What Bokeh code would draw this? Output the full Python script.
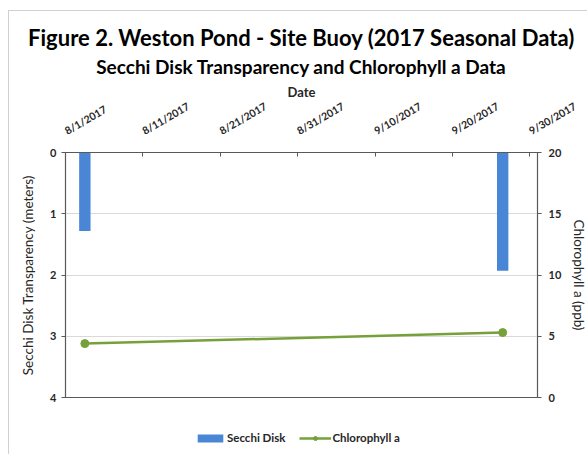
import math
import pandas as pd
from bokeh.plotting import figure
from bokeh.layouts import column
from bokeh.models import (Range1d, LinearAxis, FixedTicker, DatetimeTickFormatter,
                          Title, Legend, LegendItem, ColumnDataSource)
from bokeh.embed import file_html
from bokeh.resources import INLINE

# ---- data ----
sample_dates = ["2017-08-03 12:00", "2017-09-26 12:00"]
secchi_m = [1.28, 1.93]
chlorophyll_ppb = [4.4, 5.3]
x_tick_dates = ["2017-08-01", "2017-08-11", "2017-08-21", "2017-08-31",
                "2017-09-10", "2017-09-20", "2017-09-30"]
left_ticks = [0, 1, 2, 3, 4]
right_ticks = [0, 5, 10, 15, 20]

FONT = "Lato"
DARK = "#262626"
AXIS_COL = "#595959"
BLUE = "#4a86d6"
GREEN = "#76a03a"

src = ColumnDataSource(dict(
    date=pd.to_datetime(sample_dates),
    secchi=secchi_m,
    zero=[0] * len(secchi_m),
    chl=chlorophyll_ppb,
))

p = figure(frame_width=472, frame_height=245, output_backend="svg", toolbar_location=None,
           x_axis_type="datetime", x_axis_location="above",
           x_range=Range1d(pd.Timestamp("2017-08-01"), pd.Timestamp("2017-10-01")),
           y_range=Range1d(4, 0),
           min_border_left=56, min_border_right=50, min_border_top=141,
           min_border_bottom=10, title=None)
p.extra_y_ranges = {"chl": Range1d(0, 20)}

p.outline_line_color = AXIS_COL
p.outline_line_width = 1.2
p.background_fill_color = "white"
p.border_fill_color = "white"

bar_kw = dict(x="date", top="zero", bottom="secchi", width=1.47 * 86400000,
              fill_color=BLUE, line_color=None)
line_kw = dict(x="date", y="chl", line_color=GREEN, line_width=2.5)
pts_kw = dict(x="date", y="chl", size=8, fill_color=GREEN, line_color=GREEN)

p.vbar(source=src, **bar_kw)
p.line(source=src, y_range_name="chl", **line_kw)
p.scatter(source=src, y_range_name="chl", **pts_kw)

# x axis (top)
xa = p.xaxis[0]
xa.ticker = FixedTicker(ticks=[pd.Timestamp(d).value // 10**6 for d in x_tick_dates])
fmt = "%-m/%-d/%Y"
xa.formatter = DatetimeTickFormatter(days=fmt, months=fmt, years=fmt, hours=fmt,
                                     minutes=fmt, seconds=fmt, milliseconds=fmt,
                                     microseconds=fmt, hourmin=fmt,
                                     minsec=fmt)
xa.major_label_orientation = math.pi / 6
xa.major_label_text_font = FONT
xa.major_label_text_font_style = "bold"
xa.major_label_text_font_size = "10.5px"
xa.major_label_text_color = DARK
xa.major_label_standoff = 21
xa.axis_label = "Date"
xa.axis_label_text_font = FONT
xa.axis_label_text_font_style = "bold"
xa.axis_label_text_font_size = "13px"
xa.axis_label_text_color = DARK
xa.axis_label_standoff = -8
xa.major_tick_in = 4
xa.major_tick_out = 0
xa.minor_tick_in = 0
xa.minor_tick_out = 0
xa.axis_line_color = AXIS_COL
xa.major_tick_line_color = AXIS_COL

p.xgrid.visible = False
p.ygrid.grid_line_color = "#d9d9d9"

ya = p.yaxis[0]
ya.ticker = FixedTicker(ticks=left_ticks)
ya.axis_label = "Secchi Disk Transparency (meters)"
ya.axis_label_text_font = FONT
ya.axis_label_text_font_style = "normal"
ya.axis_label_text_font_size = "13.5px"
ya.axis_label_text_color = DARK
ya.axis_label_standoff = 11
ya.major_label_text_font = FONT
ya.major_label_text_font_style = "bold"
ya.major_label_text_font_size = "11px"
ya.major_label_text_color = DARK
ya.major_tick_in = 0
ya.major_tick_out = 4
ya.minor_tick_out = 0
ya.minor_tick_in = 0
ya.axis_line_color = AXIS_COL
ya.major_tick_line_color = AXIS_COL
ya.major_label_standoff = 5

ra = LinearAxis(y_range_name="chl", ticker=FixedTicker(ticks=right_ticks),
                axis_label="Chlorophyll a (ppb)")
ra.axis_label_text_font = FONT
ra.axis_label_text_font_style = "normal"
ra.axis_label_text_font_size = "13.5px"
ra.axis_label_text_color = DARK
ra.axis_label_standoff = 7
ra.major_label_text_font = FONT
ra.major_label_text_font_style = "bold"
ra.major_label_text_font_size = "11px"
ra.major_label_text_color = DARK
ra.major_tick_in = 0
ra.major_tick_out = 4
ra.minor_tick_out = 0
ra.minor_tick_in = 0
ra.axis_line_color = AXIS_COL
ra.major_tick_line_color = AXIS_COL
ra.major_label_standoff = 7
p.add_layout(ra, "right")

sub = Title(text="Secchi Disk Transparency and Chlorophyll a Data", align="center",
            text_font=FONT, text_font_style="bold", text_font_size="19px",
            text_color="black", standoff=5)
p.add_layout(sub, "above")
main = Title(text="Figure 2. Weston Pond - Site Buoy (2017 Seasonal Data)", align="center",
             text_font=FONT, text_font_style="bold", text_font_size="22px",
             text_color="black", standoff=0)
p.add_layout(main, "above")

# ---- legend strip below the chart ----
# the strip's ranges lie far from every data value, so its renderers draw
# nothing in the strip; they only provide the legend swatches
lf = figure(width=578, height=47, output_backend="svg", toolbar_location=None,
            x_axis_type=None, y_axis_type=None,
            x_range=Range1d(0, 1), y_range=Range1d(1000, 1001),
            min_border=0, title=None)
lf.outline_line_color = None
lf.xgrid.visible = False
lf.ygrid.visible = False
lb = lf.vbar(source=src, **bar_kw)
ll = lf.line(source=src, **line_kw)
lp = lf.scatter(source=src, **pts_kw)
legend = Legend(items=[LegendItem(label="Secchi Disk", renderers=[lb]),
                       LegendItem(label="Chlorophyll a", renderers=[ll, lp])],
                orientation="horizontal", location=(129, 10), margin=0,
                border_line_color=None, background_fill_alpha=0, padding=5,
                label_text_font=FONT, label_text_font_style="bold",
                label_text_font_size="11.5px", label_text_color=DARK,
                glyph_width=32, glyph_height=10, label_standoff=1, spacing=14)
lf.add_layout(legend)

layout = column(p, lf, spacing=0)
layout.styles = {"border-left": "1px solid #d0d0d0", "border-top": "1px solid #d0d0d0",
                 "margin-left": "8px", "margin-top": "10px"}

open("out.html", "w").write(file_html(layout, INLINE))
